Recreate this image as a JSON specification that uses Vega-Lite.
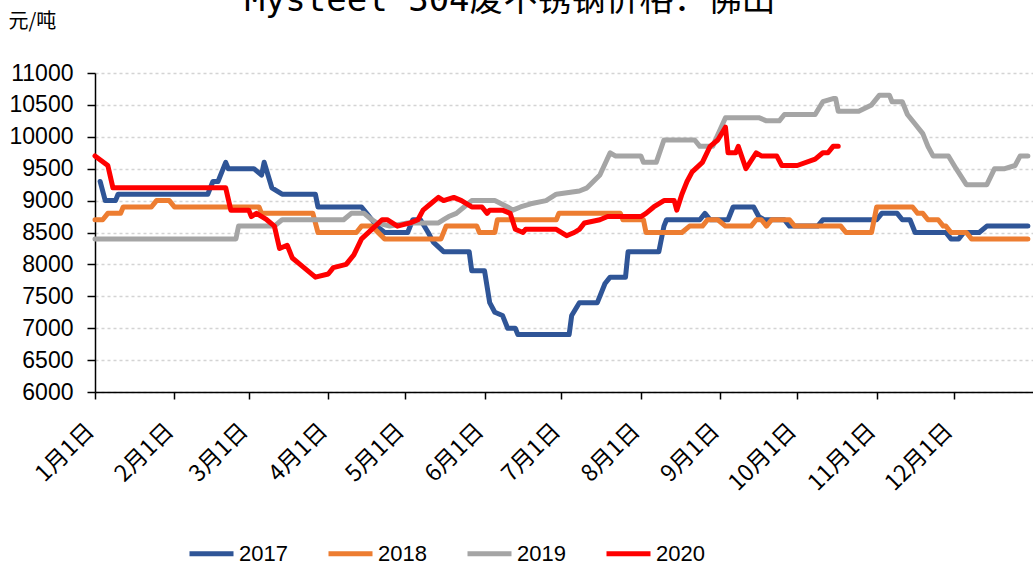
{
  "$schema": "https://vega.github.io/schema/vega-lite/v6.json",
  "autosize": {"type": "none"},
  "padding": {"left": 95, "top": 73, "right": 0, "bottom": 176},
  "width": 938,
  "height": 319,
  "background": "white",
  "title": {
    "text": "Mysteel 304废不锈钢价格：佛山",
    "font": "DejaVu Sans Mono, Noto Sans CJK SC",
    "fontSize": 34,
    "fontWeight": "normal",
    "color": "black",
    "anchor": "middle",
    "baseline": "alphabetic",
    "offset": 4,
    "dx": -54,
    "dy": 38
  },
  "config": {"view": {"stroke": null}},
  "data": {
    "values": [
      {"year": "2017", "date": "2017-01-03", "price": 9300},
      {"year": "2017", "date": "2017-01-05", "price": 9000},
      {"year": "2017", "date": "2017-01-09", "price": 9000},
      {"year": "2017", "date": "2017-01-10", "price": 9100},
      {"year": "2017", "date": "2017-02-14", "price": 9100},
      {"year": "2017", "date": "2017-02-16", "price": 9300},
      {"year": "2017", "date": "2017-02-18", "price": 9300},
      {"year": "2017", "date": "2017-02-21", "price": 9600},
      {"year": "2017", "date": "2017-02-22", "price": 9500},
      {"year": "2017", "date": "2017-03-03", "price": 9500},
      {"year": "2017", "date": "2017-03-06", "price": 9400},
      {"year": "2017", "date": "2017-03-07", "price": 9600},
      {"year": "2017", "date": "2017-03-10", "price": 9200},
      {"year": "2017", "date": "2017-03-14", "price": 9100},
      {"year": "2017", "date": "2017-03-27", "price": 9100},
      {"year": "2017", "date": "2017-03-28", "price": 8900},
      {"year": "2017", "date": "2017-04-14", "price": 8900},
      {"year": "2017", "date": "2017-04-16", "price": 8800},
      {"year": "2017", "date": "2017-04-18", "price": 8700},
      {"year": "2017", "date": "2017-04-20", "price": 8600},
      {"year": "2017", "date": "2017-04-23", "price": 8500},
      {"year": "2017", "date": "2017-05-02", "price": 8500},
      {"year": "2017", "date": "2017-05-04", "price": 8700},
      {"year": "2017", "date": "2017-05-07", "price": 8700},
      {"year": "2017", "date": "2017-05-10", "price": 8500},
      {"year": "2017", "date": "2017-05-12", "price": 8350},
      {"year": "2017", "date": "2017-05-16", "price": 8200},
      {"year": "2017", "date": "2017-05-26", "price": 8200},
      {"year": "2017", "date": "2017-05-27", "price": 7900},
      {"year": "2017", "date": "2017-06-01", "price": 7900},
      {"year": "2017", "date": "2017-06-03", "price": 7400},
      {"year": "2017", "date": "2017-06-05", "price": 7250},
      {"year": "2017", "date": "2017-06-08", "price": 7200},
      {"year": "2017", "date": "2017-06-10", "price": 7000},
      {"year": "2017", "date": "2017-06-13", "price": 7000},
      {"year": "2017", "date": "2017-06-14", "price": 6900},
      {"year": "2017", "date": "2017-07-04", "price": 6900},
      {"year": "2017", "date": "2017-07-05", "price": 7200},
      {"year": "2017", "date": "2017-07-08", "price": 7400},
      {"year": "2017", "date": "2017-07-15", "price": 7400},
      {"year": "2017", "date": "2017-07-18", "price": 7700},
      {"year": "2017", "date": "2017-07-20", "price": 7800},
      {"year": "2017", "date": "2017-07-26", "price": 7800},
      {"year": "2017", "date": "2017-07-27", "price": 8200},
      {"year": "2017", "date": "2017-08-08", "price": 8200},
      {"year": "2017", "date": "2017-08-10", "price": 8600},
      {"year": "2017", "date": "2017-08-11", "price": 8700},
      {"year": "2017", "date": "2017-08-24", "price": 8700},
      {"year": "2017", "date": "2017-08-26", "price": 8800},
      {"year": "2017", "date": "2017-08-28", "price": 8700},
      {"year": "2017", "date": "2017-09-04", "price": 8700},
      {"year": "2017", "date": "2017-09-06", "price": 8900},
      {"year": "2017", "date": "2017-09-14", "price": 8900},
      {"year": "2017", "date": "2017-09-16", "price": 8750},
      {"year": "2017", "date": "2017-09-18", "price": 8700},
      {"year": "2017", "date": "2017-09-26", "price": 8700},
      {"year": "2017", "date": "2017-09-28", "price": 8600},
      {"year": "2017", "date": "2017-10-09", "price": 8600},
      {"year": "2017", "date": "2017-10-11", "price": 8700},
      {"year": "2017", "date": "2017-11-01", "price": 8700},
      {"year": "2017", "date": "2017-11-03", "price": 8800},
      {"year": "2017", "date": "2017-11-09", "price": 8800},
      {"year": "2017", "date": "2017-11-11", "price": 8700},
      {"year": "2017", "date": "2017-11-14", "price": 8700},
      {"year": "2017", "date": "2017-11-16", "price": 8500},
      {"year": "2017", "date": "2017-11-28", "price": 8500},
      {"year": "2017", "date": "2017-11-30", "price": 8400},
      {"year": "2017", "date": "2017-12-03", "price": 8400},
      {"year": "2017", "date": "2017-12-05", "price": 8500},
      {"year": "2017", "date": "2017-12-11", "price": 8500},
      {"year": "2017", "date": "2017-12-14", "price": 8600},
      {"year": "2017", "date": "2017-12-30", "price": 8600},

      {"year": "2018", "date": "2018-01-01", "price": 8700},
      {"year": "2018", "date": "2018-01-04", "price": 8700},
      {"year": "2018", "date": "2018-01-06", "price": 8800},
      {"year": "2018", "date": "2018-01-11", "price": 8800},
      {"year": "2018", "date": "2018-01-12", "price": 8900},
      {"year": "2018", "date": "2018-01-23", "price": 8900},
      {"year": "2018", "date": "2018-01-25", "price": 9000},
      {"year": "2018", "date": "2018-01-30", "price": 9000},
      {"year": "2018", "date": "2018-02-01", "price": 8900},
      {"year": "2018", "date": "2018-03-05", "price": 8900},
      {"year": "2018", "date": "2018-03-06", "price": 8800},
      {"year": "2018", "date": "2018-03-26", "price": 8800},
      {"year": "2018", "date": "2018-03-28", "price": 8500},
      {"year": "2018", "date": "2018-04-12", "price": 8500},
      {"year": "2018", "date": "2018-04-14", "price": 8600},
      {"year": "2018", "date": "2018-04-18", "price": 8600},
      {"year": "2018", "date": "2018-04-23", "price": 8400},
      {"year": "2018", "date": "2018-05-15", "price": 8400},
      {"year": "2018", "date": "2018-05-17", "price": 8600},
      {"year": "2018", "date": "2018-05-29", "price": 8600},
      {"year": "2018", "date": "2018-05-30", "price": 8500},
      {"year": "2018", "date": "2018-06-05", "price": 8500},
      {"year": "2018", "date": "2018-06-06", "price": 8700},
      {"year": "2018", "date": "2018-06-29", "price": 8700},
      {"year": "2018", "date": "2018-06-30", "price": 8800},
      {"year": "2018", "date": "2018-07-24", "price": 8800},
      {"year": "2018", "date": "2018-07-25", "price": 8700},
      {"year": "2018", "date": "2018-08-02", "price": 8700},
      {"year": "2018", "date": "2018-08-03", "price": 8500},
      {"year": "2018", "date": "2018-08-17", "price": 8500},
      {"year": "2018", "date": "2018-08-20", "price": 8600},
      {"year": "2018", "date": "2018-08-25", "price": 8600},
      {"year": "2018", "date": "2018-08-27", "price": 8700},
      {"year": "2018", "date": "2018-08-31", "price": 8700},
      {"year": "2018", "date": "2018-09-03", "price": 8600},
      {"year": "2018", "date": "2018-09-13", "price": 8600},
      {"year": "2018", "date": "2018-09-15", "price": 8700},
      {"year": "2018", "date": "2018-09-17", "price": 8700},
      {"year": "2018", "date": "2018-09-19", "price": 8600},
      {"year": "2018", "date": "2018-09-21", "price": 8700},
      {"year": "2018", "date": "2018-09-28", "price": 8700},
      {"year": "2018", "date": "2018-09-30", "price": 8600},
      {"year": "2018", "date": "2018-10-18", "price": 8600},
      {"year": "2018", "date": "2018-10-20", "price": 8500},
      {"year": "2018", "date": "2018-10-30", "price": 8500},
      {"year": "2018", "date": "2018-11-01", "price": 8900},
      {"year": "2018", "date": "2018-11-15", "price": 8900},
      {"year": "2018", "date": "2018-11-17", "price": 8800},
      {"year": "2018", "date": "2018-11-19", "price": 8800},
      {"year": "2018", "date": "2018-11-21", "price": 8700},
      {"year": "2018", "date": "2018-11-25", "price": 8700},
      {"year": "2018", "date": "2018-11-27", "price": 8600},
      {"year": "2018", "date": "2018-11-28", "price": 8600},
      {"year": "2018", "date": "2018-11-30", "price": 8500},
      {"year": "2018", "date": "2018-12-06", "price": 8500},
      {"year": "2018", "date": "2018-12-08", "price": 8400},
      {"year": "2018", "date": "2018-12-30", "price": 8400},

      {"year": "2019", "date": "2019-01-01", "price": 8400},
      {"year": "2019", "date": "2019-02-25", "price": 8400},
      {"year": "2019", "date": "2019-02-26", "price": 8600},
      {"year": "2019", "date": "2019-03-11", "price": 8600},
      {"year": "2019", "date": "2019-03-14", "price": 8700},
      {"year": "2019", "date": "2019-04-07", "price": 8700},
      {"year": "2019", "date": "2019-04-10", "price": 8800},
      {"year": "2019", "date": "2019-04-15", "price": 8800},
      {"year": "2019", "date": "2019-04-18", "price": 8700},
      {"year": "2019", "date": "2019-04-20", "price": 8650},
      {"year": "2019", "date": "2019-04-25", "price": 8600},
      {"year": "2019", "date": "2019-05-02", "price": 8650},
      {"year": "2019", "date": "2019-05-14", "price": 8650},
      {"year": "2019", "date": "2019-05-16", "price": 8700},
      {"year": "2019", "date": "2019-05-18", "price": 8750},
      {"year": "2019", "date": "2019-05-21", "price": 8800},
      {"year": "2019", "date": "2019-05-24", "price": 8900},
      {"year": "2019", "date": "2019-05-27", "price": 9000},
      {"year": "2019", "date": "2019-06-05", "price": 9000},
      {"year": "2019", "date": "2019-06-10", "price": 8900},
      {"year": "2019", "date": "2019-06-12", "price": 8850},
      {"year": "2019", "date": "2019-06-15", "price": 8900},
      {"year": "2019", "date": "2019-06-19", "price": 8950},
      {"year": "2019", "date": "2019-06-25", "price": 9000},
      {"year": "2019", "date": "2019-06-29", "price": 9100},
      {"year": "2019", "date": "2019-07-08", "price": 9150},
      {"year": "2019", "date": "2019-07-11", "price": 9200},
      {"year": "2019", "date": "2019-07-16", "price": 9400},
      {"year": "2019", "date": "2019-07-20", "price": 9750},
      {"year": "2019", "date": "2019-07-22", "price": 9700},
      {"year": "2019", "date": "2019-08-01", "price": 9700},
      {"year": "2019", "date": "2019-08-02", "price": 9600},
      {"year": "2019", "date": "2019-08-07", "price": 9600},
      {"year": "2019", "date": "2019-08-10", "price": 9950},
      {"year": "2019", "date": "2019-08-22", "price": 9950},
      {"year": "2019", "date": "2019-08-24", "price": 9850},
      {"year": "2019", "date": "2019-08-29", "price": 9850},
      {"year": "2019", "date": "2019-09-03", "price": 10300},
      {"year": "2019", "date": "2019-09-16", "price": 10300},
      {"year": "2019", "date": "2019-09-19", "price": 10250},
      {"year": "2019", "date": "2019-09-24", "price": 10250},
      {"year": "2019", "date": "2019-09-26", "price": 10350},
      {"year": "2019", "date": "2019-10-08", "price": 10350},
      {"year": "2019", "date": "2019-10-11", "price": 10550},
      {"year": "2019", "date": "2019-10-15", "price": 10600},
      {"year": "2019", "date": "2019-10-16", "price": 10600},
      {"year": "2019", "date": "2019-10-17", "price": 10400},
      {"year": "2019", "date": "2019-10-25", "price": 10400},
      {"year": "2019", "date": "2019-10-30", "price": 10500},
      {"year": "2019", "date": "2019-11-02", "price": 10650},
      {"year": "2019", "date": "2019-11-06", "price": 10650},
      {"year": "2019", "date": "2019-11-07", "price": 10550},
      {"year": "2019", "date": "2019-11-11", "price": 10550},
      {"year": "2019", "date": "2019-11-13", "price": 10350},
      {"year": "2019", "date": "2019-11-16", "price": 10200},
      {"year": "2019", "date": "2019-11-19", "price": 10050},
      {"year": "2019", "date": "2019-11-21", "price": 9850},
      {"year": "2019", "date": "2019-11-23", "price": 9700},
      {"year": "2019", "date": "2019-11-29", "price": 9700},
      {"year": "2019", "date": "2019-12-02", "price": 9500},
      {"year": "2019", "date": "2019-12-06", "price": 9250},
      {"year": "2019", "date": "2019-12-14", "price": 9250},
      {"year": "2019", "date": "2019-12-17", "price": 9500},
      {"year": "2019", "date": "2019-12-21", "price": 9500},
      {"year": "2019", "date": "2019-12-25", "price": 9550},
      {"year": "2019", "date": "2019-12-27", "price": 9700},
      {"year": "2019", "date": "2019-12-30", "price": 9700},

      {"year": "2020", "date": "2020-01-01", "price": 9700},
      {"year": "2020", "date": "2020-01-06", "price": 9550},
      {"year": "2020", "date": "2020-01-08", "price": 9200},
      {"year": "2020", "date": "2020-02-21", "price": 9200},
      {"year": "2020", "date": "2020-02-23", "price": 8850},
      {"year": "2020", "date": "2020-03-01", "price": 8850},
      {"year": "2020", "date": "2020-03-02", "price": 8750},
      {"year": "2020", "date": "2020-03-04", "price": 8800},
      {"year": "2020", "date": "2020-03-08", "price": 8700},
      {"year": "2020", "date": "2020-03-11", "price": 8600},
      {"year": "2020", "date": "2020-03-13", "price": 8250},
      {"year": "2020", "date": "2020-03-16", "price": 8300},
      {"year": "2020", "date": "2020-03-18", "price": 8100},
      {"year": "2020", "date": "2020-03-21", "price": 8000},
      {"year": "2020", "date": "2020-03-27", "price": 7800},
      {"year": "2020", "date": "2020-04-01", "price": 7850},
      {"year": "2020", "date": "2020-04-03", "price": 7950},
      {"year": "2020", "date": "2020-04-08", "price": 8000},
      {"year": "2020", "date": "2020-04-11", "price": 8150},
      {"year": "2020", "date": "2020-04-14", "price": 8400},
      {"year": "2020", "date": "2020-04-18", "price": 8550},
      {"year": "2020", "date": "2020-04-22", "price": 8700},
      {"year": "2020", "date": "2020-04-24", "price": 8700},
      {"year": "2020", "date": "2020-04-28", "price": 8600},
      {"year": "2020", "date": "2020-05-03", "price": 8650},
      {"year": "2020", "date": "2020-05-06", "price": 8700},
      {"year": "2020", "date": "2020-05-08", "price": 8850},
      {"year": "2020", "date": "2020-05-11", "price": 8950},
      {"year": "2020", "date": "2020-05-14", "price": 9050},
      {"year": "2020", "date": "2020-05-16", "price": 9000},
      {"year": "2020", "date": "2020-05-20", "price": 9050},
      {"year": "2020", "date": "2020-05-23", "price": 9000},
      {"year": "2020", "date": "2020-05-27", "price": 8900},
      {"year": "2020", "date": "2020-05-31", "price": 8900},
      {"year": "2020", "date": "2020-06-02", "price": 8800},
      {"year": "2020", "date": "2020-06-03", "price": 8850},
      {"year": "2020", "date": "2020-06-08", "price": 8850},
      {"year": "2020", "date": "2020-06-11", "price": 8800},
      {"year": "2020", "date": "2020-06-13", "price": 8550},
      {"year": "2020", "date": "2020-06-16", "price": 8500},
      {"year": "2020", "date": "2020-06-17", "price": 8550},
      {"year": "2020", "date": "2020-06-29", "price": 8550},
      {"year": "2020", "date": "2020-07-03", "price": 8450},
      {"year": "2020", "date": "2020-07-06", "price": 8500},
      {"year": "2020", "date": "2020-07-08", "price": 8550},
      {"year": "2020", "date": "2020-07-10", "price": 8650},
      {"year": "2020", "date": "2020-07-16", "price": 8700},
      {"year": "2020", "date": "2020-07-19", "price": 8750},
      {"year": "2020", "date": "2020-08-01", "price": 8750},
      {"year": "2020", "date": "2020-08-03", "price": 8800},
      {"year": "2020", "date": "2020-08-06", "price": 8900},
      {"year": "2020", "date": "2020-08-10", "price": 9000},
      {"year": "2020", "date": "2020-08-14", "price": 9000},
      {"year": "2020", "date": "2020-08-15", "price": 8850},
      {"year": "2020", "date": "2020-08-17", "price": 9100},
      {"year": "2020", "date": "2020-08-19", "price": 9300},
      {"year": "2020", "date": "2020-08-21", "price": 9450},
      {"year": "2020", "date": "2020-08-25", "price": 9600},
      {"year": "2020", "date": "2020-08-28", "price": 9850},
      {"year": "2020", "date": "2020-08-31", "price": 9950},
      {"year": "2020", "date": "2020-09-03", "price": 10150},
      {"year": "2020", "date": "2020-09-04", "price": 9750},
      {"year": "2020", "date": "2020-09-07", "price": 9750},
      {"year": "2020", "date": "2020-09-08", "price": 9850},
      {"year": "2020", "date": "2020-09-11", "price": 9500},
      {"year": "2020", "date": "2020-09-15", "price": 9750},
      {"year": "2020", "date": "2020-09-17", "price": 9700},
      {"year": "2020", "date": "2020-09-23", "price": 9700},
      {"year": "2020", "date": "2020-09-25", "price": 9550},
      {"year": "2020", "date": "2020-10-01", "price": 9550},
      {"year": "2020", "date": "2020-10-08", "price": 9650},
      {"year": "2020", "date": "2020-10-11", "price": 9750},
      {"year": "2020", "date": "2020-10-13", "price": 9750},
      {"year": "2020", "date": "2020-10-15", "price": 9850},
      {"year": "2020", "date": "2020-10-17", "price": 9850}
    ]
  },
  "mark": {"type": "line", "strokeWidth": 5, "strokeJoin": "round", "strokeCap": "round"},
  "encoding": {
    "x": {
      "field": "date",
      "type": "temporal",
      "timeUnit": "utcmonthdate",
      "scale": {
        "domain": [
          {"year": 2012, "month": 1, "date": 1, "utc": true},
          {"year": 2013, "month": 1, "date": 1, "utc": true}
        ]
      },
      "axis": {
        "title": null,
        "grid": false,
        "values": [
          {"year": 2012, "month": 1, "date": 1, "utc": true},
          {"year": 2012, "month": 2, "date": 1, "utc": true},
          {"year": 2012, "month": 3, "date": 1, "utc": true},
          {"year": 2012, "month": 4, "date": 1, "utc": true},
          {"year": 2012, "month": 5, "date": 1, "utc": true},
          {"year": 2012, "month": 6, "date": 1, "utc": true},
          {"year": 2012, "month": 7, "date": 1, "utc": true},
          {"year": 2012, "month": 8, "date": 1, "utc": true},
          {"year": 2012, "month": 9, "date": 1, "utc": true},
          {"year": 2012, "month": 10, "date": 1, "utc": true},
          {"year": 2012, "month": 11, "date": 1, "utc": true},
          {"year": 2012, "month": 12, "date": 1, "utc": true}
        ],
        "labelExpr": "utcFormat(datum.value, '%-m月%-d日')",
        "labelAngle": -45,
        "labelAlign": "right",
        "labelBaseline": "middle",
        "labelPadding": 28,
        "labelOffset": -5,
        "labelFont": "Noto Sans CJK SC",
        "labelFontSize": 23,
        "labelColor": "black",
        "labelOverlap": false,
        "labelFlush": false,
        "domainColor": "black",
        "domainWidth": 1.5,
        "tickColor": "black",
        "tickWidth": 1.5,
        "tickSize": 7
      }
    },
    "y": {
      "field": "price",
      "type": "quantitative",
      "scale": {"domain": [6000, 11000], "nice": false, "zero": false},
      "axis": {
        "title": "元/吨",
        "titleAngle": 0,
        "titleX": -87,
        "titleY": -52,
        "titleAlign": "left",
        "titleBaseline": "middle",
        "titleFont": "Noto Sans CJK SC",
        "titleFontSize": 20,
        "titleFontWeight": "normal",
        "titleColor": "black",
        "values": [6000, 6500, 7000, 7500, 8000, 8500, 9000, 9500, 10000, 10500, 11000],
        "format": "d",
        "labelFont": "Liberation Sans",
        "labelFontSize": 23,
        "labelColor": "black",
        "labelPadding": 14,
        "grid": true,
        "gridDash": [3, 3],
        "gridColor": "#d4d4d4",
        "gridWidth": 1.5,
        "domainColor": "black",
        "domainWidth": 1.5,
        "tickColor": "black",
        "tickWidth": 1.5,
        "tickSize": 8
      }
    },
    "color": {
      "field": "year",
      "type": "nominal",
      "scale": {
        "domain": ["2017", "2018", "2019", "2020"],
        "range": ["#2F5597", "#ED7D31", "#A5A5A5", "#FF0000"]
      },
      "legend": {
        "title": null,
        "orient": "none",
        "direction": "horizontal",
        "columns": 4,
        "legendX": 92,
        "legendY": 456,
        "symbolType": "stroke",
        "symbolSize": 1936,
        "symbolStrokeWidth": 5,
        "labelFont": "Liberation Sans",
        "labelFontSize": 22,
        "labelColor": "black",
        "labelOffset": 3,
        "columnPadding": 30
      }
    }
  }
}
